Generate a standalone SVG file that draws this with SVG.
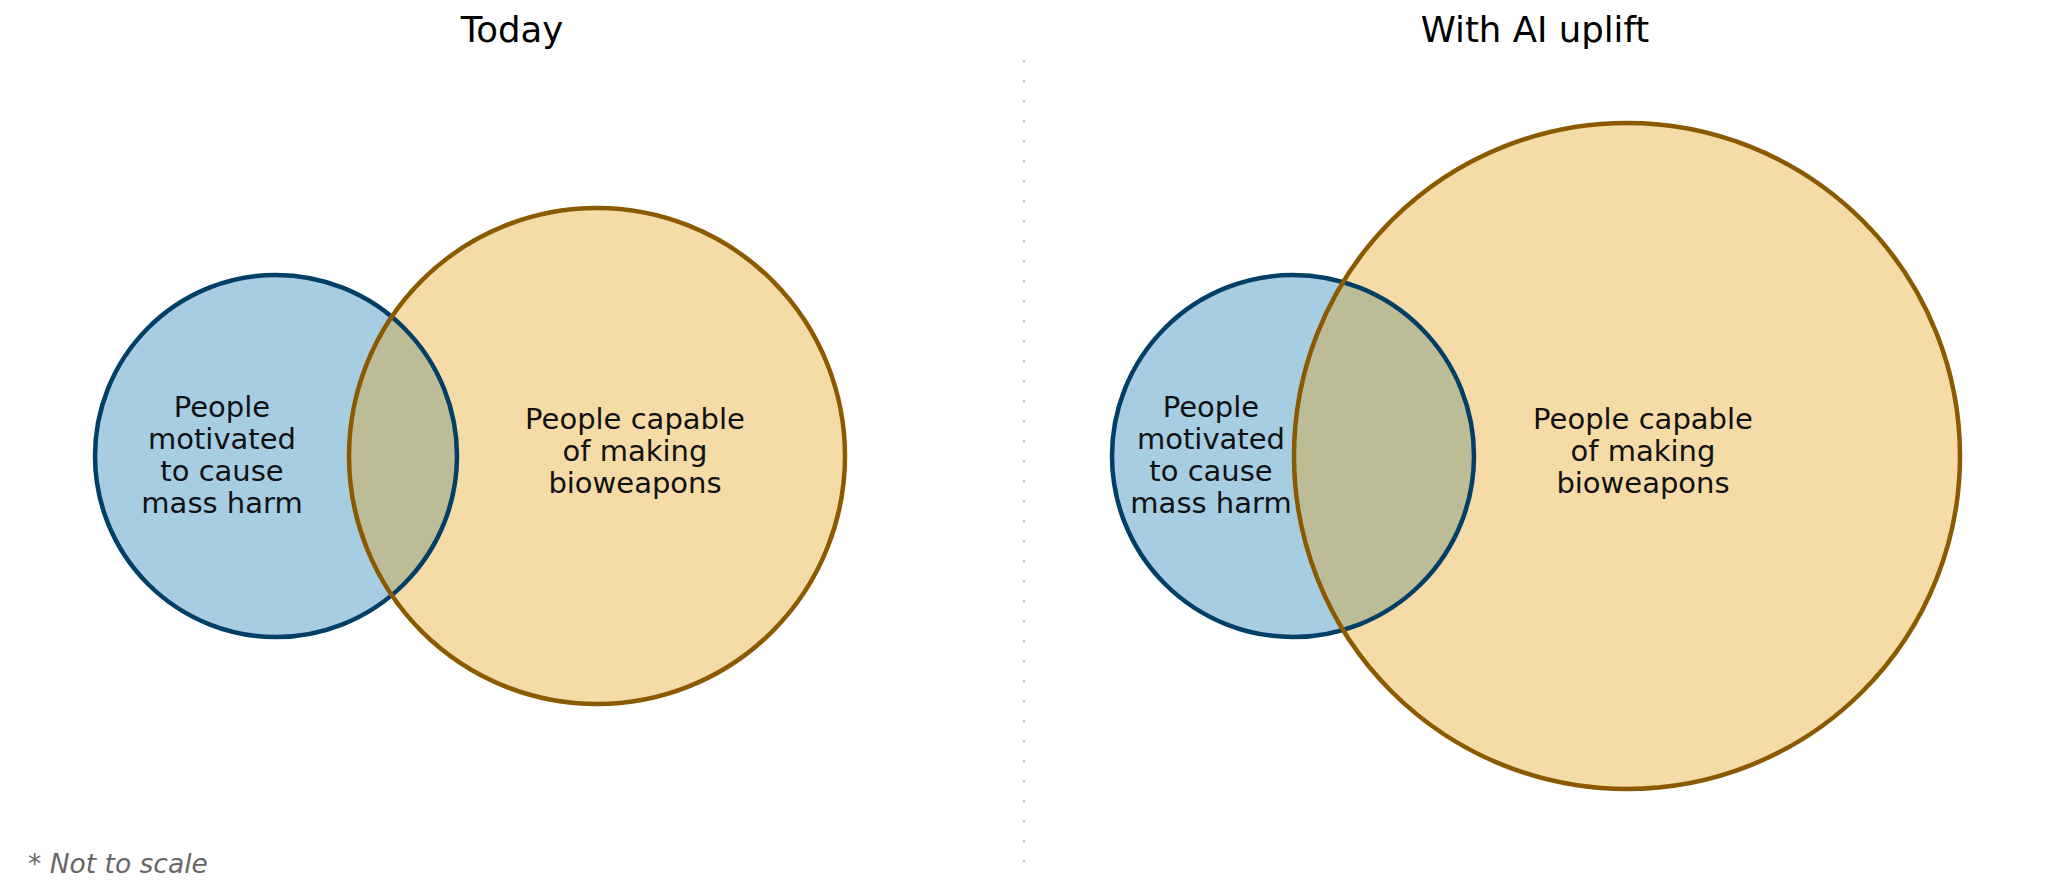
<svg xmlns="http://www.w3.org/2000/svg" width="2048" height="894" viewBox="0 0 2048 894">
<style>
.title{font-family:"DejaVu Sans",sans-serif;font-size:35.5px;fill:#000;text-anchor:middle}
.lbl{font-family:"DejaVu Sans",sans-serif;font-size:29px;fill:#111;text-anchor:middle}
.blue{fill:#a7cde3}
.orange{fill:#f5dca6}
.lens{fill:#bcbd96}
.bs{fill:none;stroke:#023f66;stroke-width:4.5}
.os{fill:none;stroke:#8b5a00;stroke-width:4.5}
.note{font-family:"DejaVu Sans",sans-serif;font-size:26.5px;font-style:italic;fill:#666}
</style>
<defs>
<clipPath id="clipL"><circle cx="276" cy="456" r="181"/></clipPath>
<clipPath id="clipR"><circle cx="1293" cy="456" r="181"/></clipPath>
</defs>
<rect width="2048" height="894" fill="#fff"/>
<text class="title" x="512" y="42">Today</text>
<text class="title" x="1535" y="42">With AI uplift</text>
<g id="connectors">
<line x1="1024" y1="60" x2="1024" y2="862" stroke="#c4c4c4" stroke-width="2.5" stroke-dasharray="2.5 17.5"/>
</g>
<g id="today-motivated">
<circle class="blue" cx="276" cy="456" r="181"/>
</g>
<g id="today-capable">
<circle class="orange" cx="597" cy="456" r="248"/>
</g>
<g id="today-overlap">
<circle class="lens" cx="597" cy="456" r="248" clip-path="url(#clipL)"/>
<circle class="bs" cx="276" cy="456" r="181"/>
<circle class="os" cx="597" cy="456" r="248"/>
<text class="lbl"><tspan x="222" y="417">People</tspan><tspan x="222" y="449">motivated</tspan><tspan x="222" y="481">to cause</tspan><tspan x="222" y="513">mass harm</tspan></text>
<text class="lbl"><tspan x="635" y="429">People capable</tspan><tspan x="635" y="461">of making</tspan><tspan x="635" y="493">bioweapons</tspan></text>
</g>
<g id="uplift-motivated">
<circle class="blue" cx="1293" cy="456" r="181"/>
</g>
<g id="uplift-capable">
<circle class="orange" cx="1627" cy="456" r="333"/>
</g>
<g id="uplift-overlap">
<circle class="lens" cx="1627" cy="456" r="333" clip-path="url(#clipR)"/>
<circle class="bs" cx="1293" cy="456" r="181"/>
<circle class="os" cx="1627" cy="456" r="333"/>
<text class="lbl"><tspan x="1211" y="417">People</tspan><tspan x="1211" y="449">motivated</tspan><tspan x="1211" y="481">to cause</tspan><tspan x="1211" y="513">mass harm</tspan></text>
<text class="lbl"><tspan x="1643" y="429">People capable</tspan><tspan x="1643" y="461">of making</tspan><tspan x="1643" y="493">bioweapons</tspan></text>
</g>
<text class="note" x="28" y="873">* Not to scale</text>
</svg>
